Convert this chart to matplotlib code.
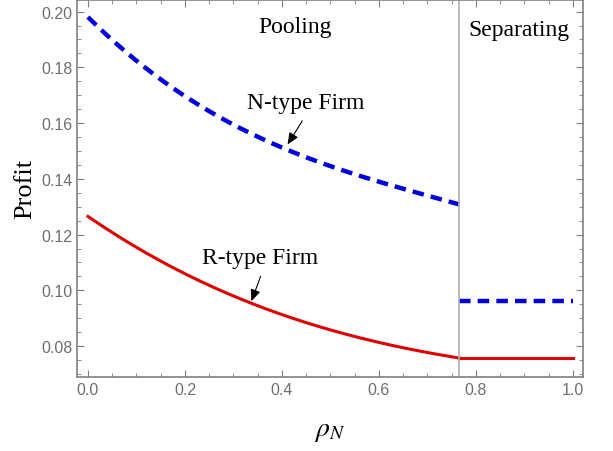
import numpy as np
import matplotlib.pyplot as plt
from matplotlib.ticker import MultipleLocator

plt.rcParams['mathtext.fontset'] = 'stix'

# values
rho_pool = [0.0, 0.1, 0.2, 0.3, 0.4, 0.5, 0.6, 0.7, 0.7655]
n_pool = [0.198, 0.1825, 0.1695, 0.1595, 0.1512, 0.1445, 0.1390, 0.1340, 0.1308]
r_pool = [0.1265, 0.1153, 0.1062, 0.0980, 0.0910, 0.0858, 0.0814, 0.0778, 0.0756]
rho_sep = [0.7655, 1.0]
n_sep = [0.096, 0.096]
r_sep = [0.0756, 0.0756]
threshold = 0.7655

blue = '#0000e0'
red = '#e00000'
gray = '#808080'

fig = plt.figure(figsize=(6.13, 4.52), dpi=100)
ax = fig.add_axes([0.1256, 0.1637, 0.8254, 0.835])

# smooth the pooling curves through the read points
xs = np.linspace(0, threshold, 200)
cn = np.polyfit(rho_pool, n_pool, 3)
cr = np.polyfit(rho_pool, r_pool, 3)
ax.plot(xs, np.polyval(cn, xs), color=blue, lw=3.2, ls=(0, (2.6, 1.6)))
ax.plot(xs, np.polyval(cr, xs), color=red, lw=2.2)
ax.plot(rho_sep, n_sep, color=blue, lw=3.2, ls=(0, (2.6, 1.6)))
ax.plot(rho_sep, r_sep, color=red, lw=2.2)
ax.axvline(threshold, color='#b0b0b0', lw=1.2)

ax.set_xlim(-0.0226, 1.0206)
ax.set_ylim(0.0689, 0.2043)
ax.xaxis.set_major_locator(MultipleLocator(0.2))
ax.xaxis.set_minor_locator(MultipleLocator(0.05))
ax.yaxis.set_major_locator(MultipleLocator(0.02))
ax.yaxis.set_minor_locator(MultipleLocator(0.005))
ax.xaxis.set_major_formatter(plt.FuncFormatter(lambda v, p: f'{v:.1f}'))
ax.yaxis.set_major_formatter(plt.FuncFormatter(lambda v, p: f'{v:.2f}'))
ax.tick_params(which='both', direction='in', top=True, right=True, color=gray,
               labelcolor='#6e6e6e', labelsize=11.5)
ax.tick_params(which='major', length=5)
ax.tick_params(which='minor', length=3)
for lab in ax.get_xticklabels() + ax.get_yticklabels():
    lab.set_family('Liberation Sans')
for s in ax.spines.values():
    s.set_color(gray)
    s.set_linewidth(1.2)

serif = 'Liberation Serif'
ax.text(0.428, 0.1946, 'Pooling', family=serif, fontsize=17, ha='center', va='center')
ax.text(0.889, 0.1935, 'Separating', family=serif, fontsize=17, ha='center', va='center')
ax.text(0.449, 0.1675, 'N-type Firm', family=serif, fontsize=17, ha='center', va='center')
ax.text(0.354, 0.1118, 'R-type Firm', family=serif, fontsize=17, ha='center', va='center')
arrow = dict(arrowstyle='-|>,head_length=0.7,head_width=0.3', color='black', lw=0.8,
             shrinkA=0, shrinkB=0)
ax.annotate('', xy=(0.4115, 0.1523), xytext=(0.442, 0.1608), arrowprops=arrow)
ax.annotate('', xy=(0.337, 0.0961), xytext=(0.356, 0.1050), arrowprops=arrow)

ax.set_ylabel('Profit', family=serif, fontsize=19, labelpad=3)
ax.set_xlabel(r'$\rho_N$', fontsize=20, labelpad=13)

fig.savefig('out.png', dpi=100)
